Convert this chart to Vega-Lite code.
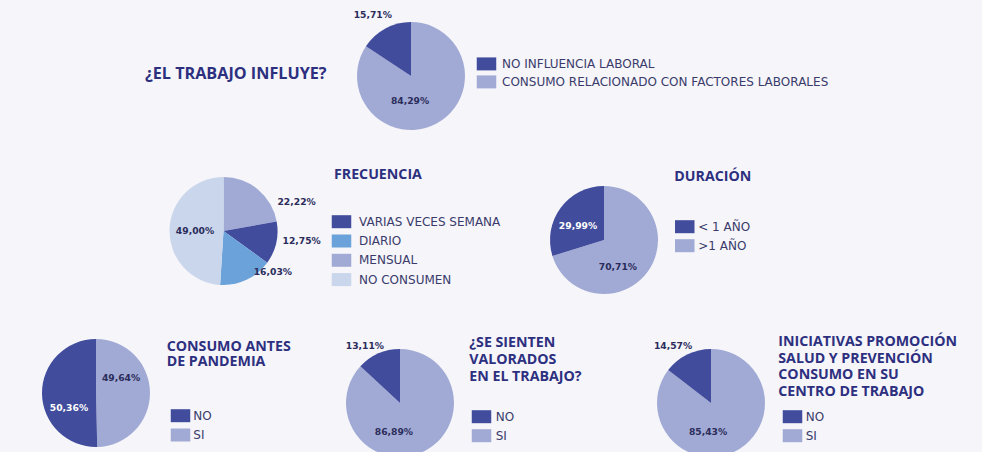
{
  "$schema": "https://vega.github.io/schema/vega-lite/v6.json",
  "background": "#f5f5fa",
  "padding": {"left": 0, "top": 0, "right": 60, "bottom": 0},
  "config": {
    "view": {"stroke": null},
    "locale": {"number": {"decimal": ",", "thousands": ".", "grouping": [3], "currency": ["", "%"]}},
    "title": {"font": "Open Sans", "fontWeight": "bold", "fontSize": 14.2, "color": "#2d2f7f", "orient": "top", "anchor": "start", "frame": "group", "offset": 0, "baseline": "top", "align": "left"},
    "legend": {"orient": "none", "title": null, "symbolType": "M-1.5,-1H1.5V1H-1.5Z", "symbolSize": 169, "symbolStrokeWidth": 0, "padding": 0, "labelFont": "DejaVu Sans", "labelFontSize": 12, "labelColor": "#3a3b6b", "labelLimit": 500, "symbolOpacity": 1},
    "text": {"font": "DejaVu Sans", "fontWeight": "bold", "fontSize": 9.2, "align": "center", "baseline": "middle"}
  },
  "datasets": {
    "p1": [
      {"cat": "CONSUMO RELACIONADO CON FACTORES LABORALES", "value": 84.29, "orden": 1},
      {"cat": "NO INFLUENCIA LABORAL", "value": 15.71, "orden": 2}
    ],
    "p2": [
      {"cat": "MENSUAL", "value": 22.22, "orden": 1},
      {"cat": "VARIAS VECES SEMANA", "value": 12.75, "orden": 2},
      {"cat": "DIARIO", "value": 16.03, "orden": 3},
      {"cat": "NO CONSUMEN", "value": 49.0, "orden": 4}
    ],
    "p3": [
      {"cat": ">1 AÑO", "value": 70.71, "orden": 1},
      {"cat": "< 1 AÑO", "value": 29.99, "orden": 2}
    ],
    "p4": [
      {"cat": "SI", "value": 49.64, "orden": 1},
      {"cat": "NO", "value": 50.36, "orden": 2}
    ],
    "p5": [
      {"cat": "SI", "value": 86.89, "orden": 1},
      {"cat": "NO", "value": 13.11, "orden": 2}
    ],
    "p6": [
      {"cat": "SI", "value": 85.43, "orden": 1},
      {"cat": "NO", "value": 14.57, "orden": 2}
    ]
  },
  "spacing": 0,
  "resolve": {"scale": {"color": "independent", "theta": "independent"}, "legend": {"color": "independent"}},
  "vconcat": [
    {
      "width": 822, "height": 152,
      "data": {"name": "p1"},
      "title": {"text": "¿EL TRABAJO INFLUYE?", "fontSize": 16.2, "dx": 145, "dy": 86.5},
      "encoding": {
        "theta": {"field": "value", "type": "quantitative", "stack": true},
        "order": {"field": "orden", "type": "quantitative"}
      },
      "layer": [
        {"mark": {"type": "arc", "outerRadius": 54},
         "encoding": {"color": {"field": "cat", "type": "nominal",
           "scale": {"domain": ["NO INFLUENCIA LABORAL", "CONSUMO RELACIONADO CON FACTORES LABORALES"], "range": ["#414c9c", "#a1aad5"]},
           "legend": {"legendX": 480, "legendY": 57.4, "labelOffset": 9, "rowPadding": 5}}}},
        {"mark": {"type": "text", "radius": 72, "thetaOffset": -0.065, "color": "#2b2c5a"},
         "encoding": {"detail": {"field": "cat"}, "text": {"condition": {"test": "datum.cat == 'NO INFLUENCIA LABORAL'", "field": "value", "type": "quantitative", "format": "$.2f"}, "value": ""}}},
        {"mark": {"type": "text", "radius": 25, "thetaOffset": 0.53, "color": "#2b2c5a"},
         "encoding": {"detail": {"field": "cat"}, "text": {"condition": {"test": "datum.cat == 'CONSUMO RELACIONADO CON FACTORES LABORALES'", "field": "value", "type": "quantitative", "format": "$.2f"}, "value": ""}}}
      ]
    },
    {
      "spacing": 0,
      "bounds": "flush",
      "resolve": {"scale": {"color": "independent", "theta": "independent"}, "legend": {"color": "independent"}},
      "hconcat": [
        {
          "width": 447, "height": 158,
          "data": {"name": "p2"},
          "title": {"text": "FRECUENCIA", "dx": 334, "dy": 34.4},
          "encoding": {
            "theta": {"field": "value", "type": "quantitative", "stack": true},
            "order": {"field": "orden", "type": "quantitative"}
          },
          "layer": [
            {"mark": {"type": "arc", "outerRadius": 54},
             "encoding": {"color": {"field": "cat", "type": "nominal",
               "scale": {"domain": ["VARIAS VECES SEMANA", "DIARIO", "MENSUAL", "NO CONSUMEN"], "range": ["#414c9c", "#6ba2d9", "#a1aad5", "#cad6eb"]},
               "legend": {"legendX": 335, "legendY": 63.2, "labelOffset": 11, "rowPadding": 6.3}}}},
            {"mark": {"type": "text", "radius": 78.8, "thetaOffset": 0.49, "color": "#2b2c5a"},
             "encoding": {"detail": {"field": "cat"}, "text": {"condition": {"test": "datum.cat == 'MENSUAL'", "field": "value", "type": "quantitative", "format": "$.2f"}, "value": ""}}},
            {"mark": {"type": "text", "radius": 78.8, "thetaOffset": -0.1, "color": "#2b2c5a"},
             "encoding": {"detail": {"field": "cat"}, "text": {"condition": {"test": "datum.cat == 'VARIAS VECES SEMANA'", "field": "value", "type": "quantitative", "format": "$.2f"}, "value": ""}}},
            {"mark": {"type": "text", "radius": 64, "thetaOffset": -0.44, "color": "#2b2c5a"},
             "encoding": {"detail": {"field": "cat"}, "text": {"condition": {"test": "datum.cat == 'DIARIO'", "field": "value", "type": "quantitative", "format": "$.2f"}, "value": ""}}},
            {"mark": {"type": "text", "radius": 28.5, "thetaOffset": -0.03, "color": "#2b2c5a"},
             "encoding": {"detail": {"field": "cat"}, "text": {"condition": {"test": "datum.cat == 'NO CONSUMEN'", "field": "value", "type": "quantitative", "format": "$.2f"}, "value": ""}}}
          ]
        },
        {
          "width": 314, "height": 176,
          "data": {"name": "p3"},
          "title": {"text": "DURACIÓN", "dx": 227.3, "dy": 36.4},
          "encoding": {
            "theta": {"field": "value", "type": "quantitative", "stack": true},
            "order": {"field": "orden", "type": "quantitative"}
          },
          "layer": [
            {"mark": {"type": "arc", "outerRadius": 54},
             "encoding": {"color": {"field": "cat", "type": "nominal",
               "scale": {"domain": ["< 1 AÑO", ">1 AÑO"], "range": ["#414c9c", "#a1aad5"]},
               "legend": {"legendX": 231.25, "legendY": 68.2, "labelOffset": 7, "rowPadding": 6}}}},
            {"mark": {"type": "text", "radius": 29.7, "thetaOffset": -0.13, "color": "#ffffff"},
             "encoding": {"detail": {"field": "cat"}, "text": {"condition": {"test": "datum.cat == '< 1 AÑO'", "field": "value", "type": "quantitative", "format": "$.2f"}, "value": ""}}},
            {"mark": {"type": "text", "radius": 30.4, "thetaOffset": 0.46, "color": "#2b2c5a"},
             "encoding": {"detail": {"field": "cat"}, "text": {"condition": {"test": "datum.cat == '>1 AÑO'", "field": "value", "type": "quantitative", "format": "$.2f"}, "value": ""}}}
          ]
        }
      ]
    },
    {
      "spacing": 0,
      "bounds": "flush",
      "resolve": {"scale": {"color": "independent", "theta": "independent"}, "legend": {"color": "independent"}},
      "hconcat": [
        {
          "width": 192, "height": 130,
          "data": {"name": "p4"},
          "title": {"text": ["CONSUMO ANTES", "DE PANDEMIA"], "dx": 166.7, "dy": 44.8, "lineHeight": 14.6},
          "encoding": {
            "theta": {"field": "value", "type": "quantitative", "stack": true},
            "order": {"field": "orden", "type": "quantitative"}
          },
          "layer": [
            {"mark": {"type": "arc", "outerRadius": 54},
             "encoding": {"color": {"field": "cat", "type": "nominal",
               "scale": {"domain": ["NO", "SI"], "range": ["#414c9c", "#a1aad5"]},
               "legend": {"legendX": 174, "legendY": 81.2, "labelOffset": 6.3, "rowPadding": 6.3}}}},
            {"mark": {"type": "text", "radius": 29.2, "thetaOffset": -0.53, "color": "#2b2c5a"},
             "encoding": {"detail": {"field": "cat"}, "text": {"condition": {"test": "datum.cat == 'SI'", "field": "value", "type": "quantitative", "format": "$.2f"}, "value": ""}}},
            {"mark": {"type": "text", "radius": 31, "thetaOffset": -0.5, "color": "#ffffff"},
             "encoding": {"detail": {"field": "cat"}, "text": {"condition": {"test": "datum.cat == 'NO'", "field": "value", "type": "quantitative", "format": "$.2f"}, "value": ""}}}
          ]
        },
        {
          "width": 416, "height": 150,
          "data": {"name": "p5"},
          "title": {"text": ["¿SE SIENTEN", "VALORADOS", "EN EL TRABAJO?"], "dx": 277.3, "dy": 60, "lineHeight": 17},
          "encoding": {
            "theta": {"field": "value", "type": "quantitative", "stack": true},
            "order": {"field": "orden", "type": "quantitative"}
          },
          "layer": [
            {"mark": {"type": "arc", "outerRadius": 54},
             "encoding": {"color": {"field": "cat", "type": "nominal",
               "scale": {"domain": ["NO", "SI"], "range": ["#414c9c", "#a1aad5"]},
               "legend": {"legendX": 283, "legendY": 82.2, "labelOffset": 7.7, "rowPadding": 6}}}},
            {"mark": {"type": "text", "radius": 67, "thetaOffset": -0.14, "color": "#2b2c5a"},
             "encoding": {"detail": {"field": "cat"}, "text": {"condition": {"test": "datum.cat == 'NO'", "field": "value", "type": "quantitative", "format": "$.2f"}, "value": ""}}},
            {"mark": {"type": "text", "radius": 29.6, "thetaOffset": 0.62, "color": "#2b2c5a"},
             "encoding": {"detail": {"field": "cat"}, "text": {"condition": {"test": "datum.cat == 'SI'", "field": "value", "type": "quantitative", "format": "$.2f"}, "value": ""}}}
          ]
        },
        {
          "width": 206, "height": 150,
          "data": {"name": "p6"},
          "title": {"text": ["INICIATIVAS PROMOCIÓN", "SALUD Y PREVENCIÓN", "CONSUMO EN SU", "CENTRO DE TRABAJO"], "dx": 170.3, "dy": 75.4, "lineHeight": 16.7},
          "encoding": {
            "theta": {"field": "value", "type": "quantitative", "stack": true},
            "order": {"field": "orden", "type": "quantitative"}
          },
          "layer": [
            {"mark": {"type": "arc", "outerRadius": 54},
             "encoding": {"color": {"field": "cat", "type": "nominal",
               "scale": {"domain": ["NO", "SI"], "range": ["#414c9c", "#a1aad5"]},
               "legend": {"legendX": 178, "legendY": 82.2, "labelOffset": 6.7, "rowPadding": 6}}}},
            {"mark": {"type": "text", "radius": 68.5, "thetaOffset": -0.13, "color": "#2b2c5a"},
             "encoding": {"detail": {"field": "cat"}, "text": {"condition": {"test": "datum.cat == 'NO'", "field": "value", "type": "quantitative", "format": "$.2f"}, "value": ""}}},
            {"mark": {"type": "text", "radius": 29.2, "thetaOffset": 0.56, "color": "#2b2c5a"},
             "encoding": {"detail": {"field": "cat"}, "text": {"condition": {"test": "datum.cat == 'SI'", "field": "value", "type": "quantitative", "format": "$.2f"}, "value": ""}}}
          ]
        }
      ]
    }
  ]
}
